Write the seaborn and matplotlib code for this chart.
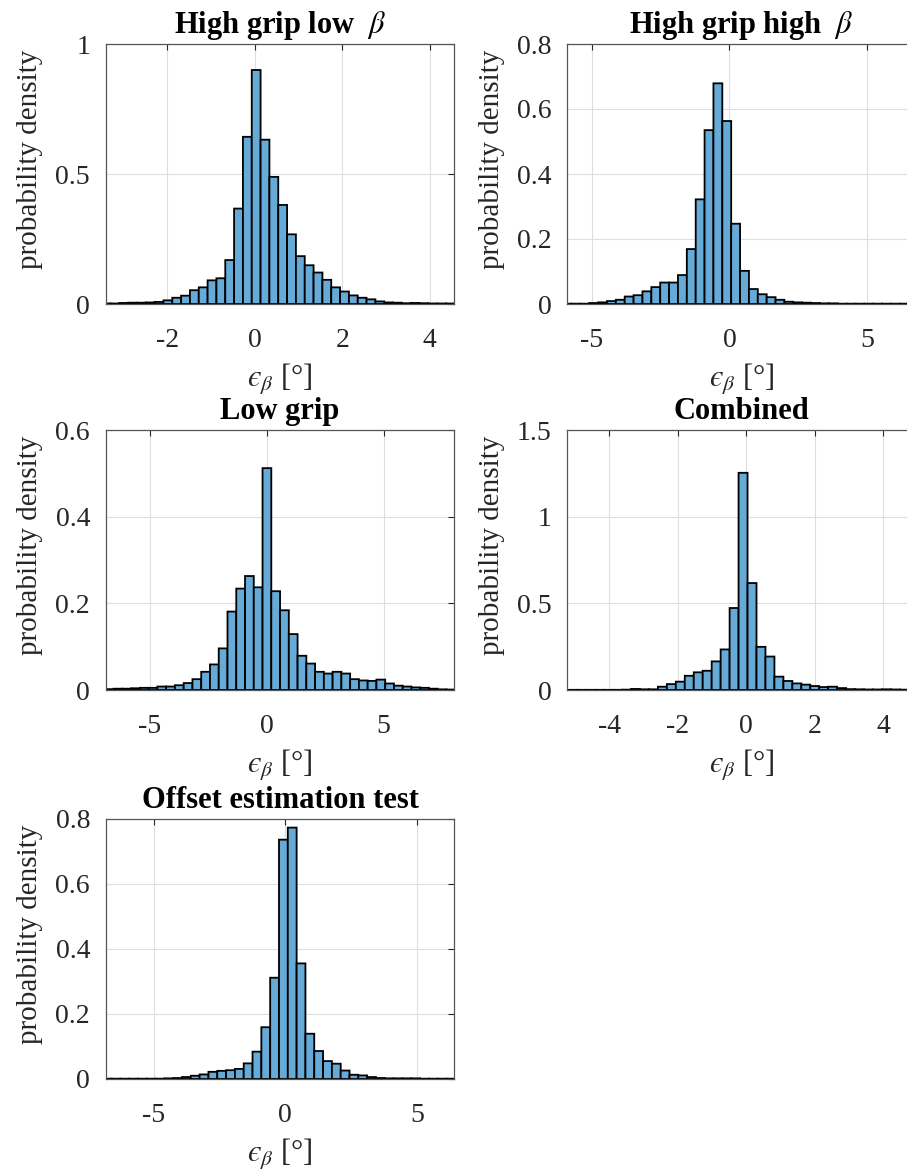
import numpy as np
import pandas as pd
import matplotlib
matplotlib.use("Agg")
import matplotlib.pyplot as plt
import seaborn as sns
from matplotlib.ticker import FuncFormatter

# ---------------- data ----------------
titles = ["High grip low  $\\beta$", "High grip high  $\\beta$", "Low grip",
          "Combined", "Offset estimation test"]

# histogram bin start and bin width for each panel
bin_start = [-3.50, -6.056, -6.925, -5.19, -6.937]
bin_width = [0.2019, 0.322, 0.3749, 0.2615, 0.3348]

dens_hg_low = [0.002, 0.002, 0.004, 0.005, 0.005, 0.006, 0.008, 0.014, 0.024, 0.032,
               0.053, 0.064, 0.091, 0.099, 0.169, 0.367, 0.643,
               0.90,
               0.632, 0.489, 0.381, 0.268, 0.184, 0.149, 0.121, 0.093, 0.064, 0.048,
               0.033, 0.024, 0.018, 0.010, 0.006, 0.005, 0.003, 0.004, 0.003, 0.002,
               0.002, 0.002]
dens_hg_high = [0.001, 0.001, 0.001, 0.003, 0.005, 0.009, 0.013, 0.023, 0.027, 0.039,
                0.052, 0.066, 0.066, 0.089, 0.169, 0.322, 0.535,
                0.679,
                0.563, 0.247, 0.102, 0.046, 0.030, 0.021, 0.013, 0.007, 0.005, 0.004,
                0.003, 0.002, 0.002, 0.001, 0.001, 0.001, 0.001, 0.001, 0.001, 0.001,
                0.001]
dens_low = [0.002, 0.003, 0.003, 0.004, 0.005, 0.005, 0.008, 0.008, 0.011, 0.016,
            0.025, 0.042, 0.059, 0.096, 0.181, 0.234, 0.263, 0.237,
            0.512,
            0.228, 0.184, 0.129, 0.079, 0.061, 0.042, 0.038, 0.042, 0.038, 0.025,
            0.022, 0.021, 0.024, 0.015, 0.010, 0.008, 0.006, 0.005, 0.003, 0.0015,
            0.001]
dens_comb = [0.001, 0.001, 0.001, 0.001, 0.001, 0.001, 0.002, 0.006, 0.004, 0.004,
             0.019, 0.034, 0.048, 0.082, 0.102, 0.111, 0.165, 0.234, 0.473,
             1.253,
             0.617, 0.249, 0.193, 0.077, 0.052, 0.038, 0.031, 0.023, 0.017, 0.019,
             0.011, 0.005, 0.004, 0.003, 0.003, 0.004, 0.003, 0.002]
dens_offset = [0.001, 0.001, 0.001, 0.001, 0.001, 0.001, 0.001, 0.002, 0.003, 0.006,
               0.010, 0.014, 0.022, 0.025, 0.027, 0.031, 0.048, 0.084, 0.159, 0.311,
               0.735, 0.772, 0.355, 0.139, 0.086, 0.055, 0.047, 0.026, 0.013, 0.011,
               0.006, 0.003, 0.002, 0.002, 0.002, 0.002, 0.001, 0.001, 0.001, 0.001]
densities = [dens_hg_low, dens_hg_high, dens_low, dens_comb, dens_offset]

x_limits = [(-3.40, 4.556), (-5.886, 6.744), (-6.876, 8.017), (-5.218, 4.934), (-6.81, 6.405)]
y_limits = [(0, 1.0), (0, 0.8), (0, 0.6), (0, 1.5), (0, 0.8)]
x_ticks = [[-2, 0, 2, 4], [-5, 0, 5], [-5, 0, 5], [-4, -2, 0, 2, 4], [-5, 0, 5]]
y_ticks = [[0, 0.5, 1], [0, 0.2, 0.4, 0.6, 0.8], [0, 0.2, 0.4, 0.6],
           [0, 0.5, 1, 1.5], [0, 0.2, 0.4, 0.6, 0.8]]
x_label = "$\u03f5_{\\beta}$ [\u00b0]"
y_label = "probability density"

# ---------------- style ----------------
sns.set_style("white")
plt.rcParams["font.family"] = ["Liberation Serif", "DejaVu Serif"]
plt.rcParams["mathtext.fontset"] = "stix"
plt.rcParams["axes.unicode_minus"] = False

W, H = 907, 1173
fig = plt.figure(figsize=(W / 100, H / 100), dpi=100)

# axes boxes in pixels: (left, top, width, height)
boxes = [(106, 44, 348, 260), (567.3, 44, 348, 260),
         (106, 430, 348, 260), (567.3, 430, 348, 260),
         (106, 818.5, 348, 260.5)]

bar_color = "#66AAD7"
axis_color = "#262626"
fmt = FuncFormatter(lambda v, p: "%g" % v)

for i in range(5):
    l, t, w, h = boxes[i]
    ax = fig.add_axes([l / W, 1 - (t + h) / H, w / W, h / H])
    vals = np.asarray(densities[i], dtype=float)
    n = len(vals)
    edges = bin_start[i] + bin_width[i] * np.arange(n + 1)
    centers = 0.5 * (edges[:-1] + edges[1:])
    df = pd.DataFrame({"err": centers, "dens": vals})
    sns.histplot(data=df, x="err", weights="dens", bins=list(edges), stat="count",
                 ax=ax, color=bar_color, edgecolor="black", linewidth=1.3,
                 alpha=1.0, shrink=1.0)
    for p in ax.patches:
        p.set_snap(False)
    ax.set_xlim(*x_limits[i])
    ax.set_ylim(*y_limits[i])
    ax.set_xticks(x_ticks[i])
    ax.set_yticks(y_ticks[i])
    ax.xaxis.set_major_formatter(fmt)
    ax.yaxis.set_major_formatter(fmt)
    ax.set_axisbelow(True)
    ax.grid(True, color="#DEDEDE", linewidth=0.8)
    for s in ax.spines.values():
        s.set_visible(True)
        s.set_color("#555555")
        s.set_linewidth(0.9)
    ax.tick_params(direction="in", top=True, right=True, length=4, width=0.8,
                   color=axis_color, labelsize=20, labelcolor=axis_color)
    ax.tick_params(axis="x", pad=17.5)
    ax.tick_params(axis="y", pad=11.5)
    ax.set_title(titles[i], fontsize=22, fontweight="bold", pad=7.7, color="black")
    ax.set_ylabel(y_label, fontsize=21, color=axis_color)
    ax.yaxis.set_label_coords(-0.18, 0.555)
    ax.set_xlabel(x_label, fontsize=22, color=axis_color, va="top")
    ax.xaxis.set_label_coords(0.5, -0.222)

fig.savefig("out.png", dpi=100)
